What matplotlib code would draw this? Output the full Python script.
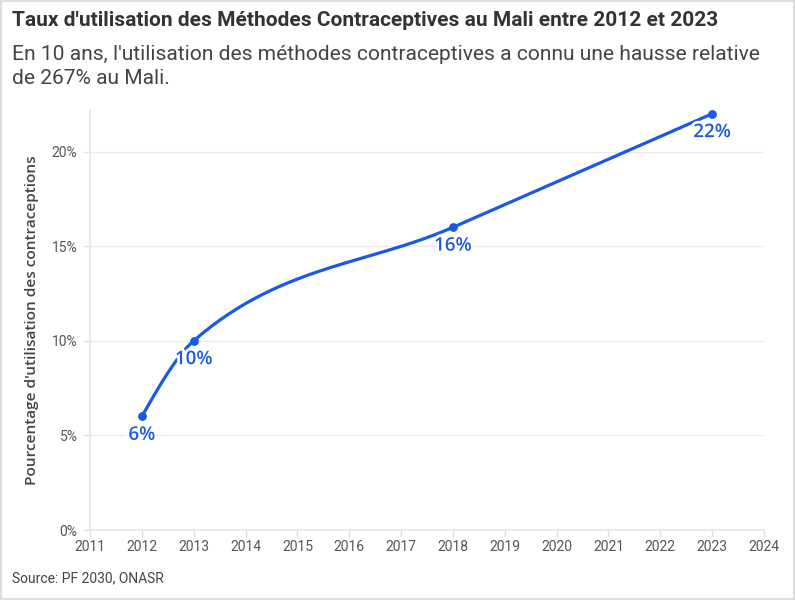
import numpy as np
import matplotlib
matplotlib.use("Agg")
import matplotlib.pyplot as plt
import matplotlib.patheffects as pe
from matplotlib.ticker import FuncFormatter

# donnees
annees = [2012, 2013, 2018, 2023]
taux = [6, 10, 16, 22]
etiquettes = ["6%", "10%", "16%", "22%"]

titre = "Taux d'utilisation des Méthodes Contraceptives au Mali entre 2012 et 2023"
sous_titre1 = "En 10 ans, l'utilisation des méthodes contraceptives a connu une hausse relative"
sous_titre2 = "de 267% au Mali."
source = "Source: PF 2030, ONASR"
label_y = "Pourcentage d'utilisation des contraceptions"

bleu = "#1a5ae0"
cond = ["Roboto", "DejaVu Sans"]
large = ["Open Sans", "DejaVu Sans"]


# courbe monotone (comme d3.curveMonotoneX)
def pentes_monotones(x, y):
    x = np.asarray(x, float)
    y = np.asarray(y, float)
    n = len(x)
    t = np.zeros(n)
    for i in range(1, n - 1):
        h0 = x[i] - x[i - 1]
        h1 = x[i + 1] - x[i]
        s0 = (y[i] - y[i - 1]) / h0
        s1 = (y[i + 1] - y[i]) / h1
        p = (s0 * h1 + s1 * h0) / (h0 + h1)
        t[i] = (np.sign(s0) + np.sign(s1)) * min(abs(s0), abs(s1), 0.5 * abs(p))
    h = x[1] - x[0]
    t[0] = (3 * (y[1] - y[0]) / h - t[1]) / 2
    h = x[-1] - x[-2]
    t[-1] = (3 * (y[-1] - y[-2]) / h - t[-2]) / 2
    return t


def courbe(x, y, pas=60):
    t = pentes_monotones(x, y)
    xs, ys = [], []
    for i in range(len(x) - 1):
        h = x[i + 1] - x[i]
        u = np.linspace(0, 1, pas)
        h00 = 2 * u**3 - 3 * u**2 + 1
        h10 = u**3 - 2 * u**2 + u
        h01 = -2 * u**3 + 3 * u**2
        h11 = u**3 - u**2
        xs.extend(x[i] + u * h)
        ys.extend(h00 * y[i] + h10 * h * t[i] + h01 * y[i + 1] + h11 * h * t[i + 1])
    return np.array(xs), np.array(ys)


def ajuste(txt, largeur, vertical=False):
    # met la taille pour que le texte fasse la largeur voulue (pixels)
    r = fig.canvas.get_renderer()
    bb = txt.get_window_extent(r)
    w = bb.height if vertical else bb.width
    txt.set_fontsize(txt.get_fontsize() * largeur / w)


fig = plt.figure(figsize=(7.95, 6), dpi=100)
ax = fig.add_axes([90 / 795, 1 - 530 / 600, (764 - 90) / 795, 420 / 600])

cx, cy = courbe(annees, taux)
ax.plot(cx, cy, color=bleu, lw=2.3, zorder=3, solid_capstyle="round")
ax.scatter(annees, taux, color=bleu, s=28, zorder=4)

for a, v, lab in zip(annees, taux, etiquettes):
    ax.annotate(lab, (a, v), xytext=(0, -6), textcoords="offset points",
                ha="center", va="top", fontsize=13.5, color=bleu,
                family=large, fontweight="semibold", zorder=5,
                path_effects=[pe.withStroke(linewidth=4, foreground="white")])

ax.set_xlim(2011, 2024)
ax.set_ylim(0, 22.2)
ax.set_xticks(range(2011, 2025))
ax.set_yticks([0, 5, 10, 15, 20])
ax.yaxis.set_major_formatter(FuncFormatter(lambda v, p: f"{v:.0f}%"))
ax.grid(axis="y", color="#ebebeb", lw=1)
ax.set_axisbelow(True)
for s in ["top", "right"]:
    ax.spines[s].set_visible(False)
for s in ["left", "bottom"]:
    ax.spines[s].set_color("#e6e6e6")
    ax.spines[s].set_linewidth(1.2)
ax.tick_params(colors="#e3e3e3", labelcolor="#555555", length=5, width=1, pad=2)
ax.tick_params(axis="y", pad=4)
for lab in ax.get_xticklabels() + ax.get_yticklabels():
    lab.set_family(cond)
    lab.set_fontsize(10)

yl = ax.set_ylabel(label_y, family=large, fontsize=11, fontweight="semibold",
                   color="#444444")
ax.yaxis.set_label_coords((39 - 90) / 674, 0.5)

t1 = fig.text(12 / 795, 1 - 21 / 600, titre, family=cond, fontsize=14, fontweight="bold",
              color="#333333", va="center")
t2 = fig.text(12 / 795, 1 - 54 / 600, sous_titre1, family=cond, fontsize=14,
              color="#444444", va="center")
t3 = fig.text(12 / 795, 1 - 79 / 600, sous_titre2, family=cond, fontsize=14,
              color="#444444", va="center")
t4 = fig.text(12 / 795, 1 - 578 / 600, source, family=cond, fontsize=10,
              color="#444444", va="center")

ajuste(t1, 706)
ajuste(t2, 754)
t3.set_fontsize(t2.get_fontsize())
ajuste(yl, 330, vertical=True)

fig.patches.append(plt.Rectangle((0.001, 0.002), 0.998, 0.996, transform=fig.transFigure,
                                 fill=False, edgecolor="#dddddd", lw=1.5))

fig.savefig("out.png", dpi=100, facecolor="white")
